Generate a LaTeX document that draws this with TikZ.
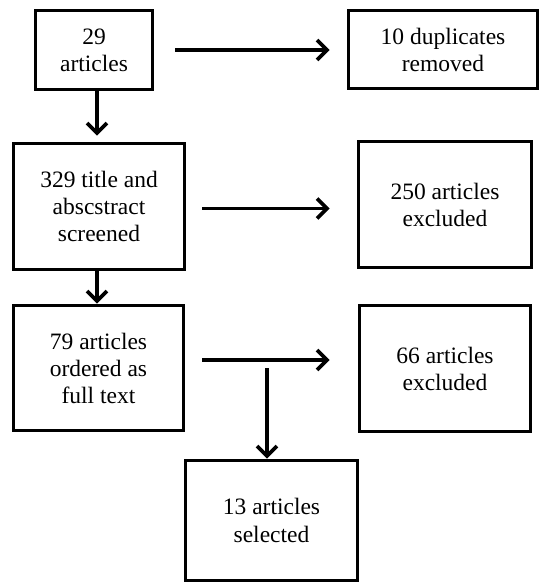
\documentclass[tikz,border=0pt]{standalone}
\usepackage{fontspec}
\setmainfont{Liberation Serif}
\usetikzlibrary{arrows.meta}
\begin{document}
\begin{tikzpicture}[x=1pt,y=-1pt,
  box/.style={draw=black, line width=3.6pt, fill=white, align=center, inner sep=2pt,
    font=\fontsize{23.5}{27}\selectfont},
  arr/.style={draw=black, line width=3.8pt, -{Straight Barb[length=10pt,width=20pt]}}]
\useasboundingbox (0,0) rectangle (540,585);
\node[box, minimum width=117pt, minimum height=79pt] (b1) at (94,50) {29\\articles};
\node[box, minimum width=189pt, minimum height=78pt] (b2) at (443,49.5) {10 duplicates\\removed};
\node[box, minimum width=171pt, minimum height=126pt] (b3) at (99,206.5) {329 title and\\abscstract\\screened};
\node[box, minimum width=173pt, minimum height=126pt] (b4) at (445,204.5) {250 articles\\excluded};
\node[box, minimum width=170pt, minimum height=125pt] (b5) at (98.5,368) {79 articles\\ordered as\\full text};
\node[box, minimum width=171pt, minimum height=126pt] (b6) at (445,368.5) {66 articles\\excluded};
\node[box, minimum width=172pt, minimum height=120pt] (b7) at (271.5,520.5) {13 articles\\[1pt]selected};
% horizontal arrows
\draw[arr, shorten <=21pt, shorten >=17pt] (b1.east) -- (b1.east -| b2.west);
\draw[arr, shorten <=16pt, shorten >=27pt] ([yshift=-2pt]b3.east) -- ([yshift=-2pt]b3.east -| b4.west);
\draw[arr, shorten <=17pt, shorten >=28pt] ([yshift=8pt]b5.east) -- ([yshift=8pt]b5.east -| b6.west);
% vertical arrows
\draw[arr, shorten >=6pt] ([xshift=3pt]b1.south) -- ([xshift=3pt]b1.south |- b3.north);
\draw[arr] ([xshift=-2pt]b3.south) -- ([xshift=-2pt]b3.south |- b5.north);
\coordinate (split) at (267,368);
\draw[arr] (split) -- (split |- b7.north);
\end{tikzpicture}
\end{document}
